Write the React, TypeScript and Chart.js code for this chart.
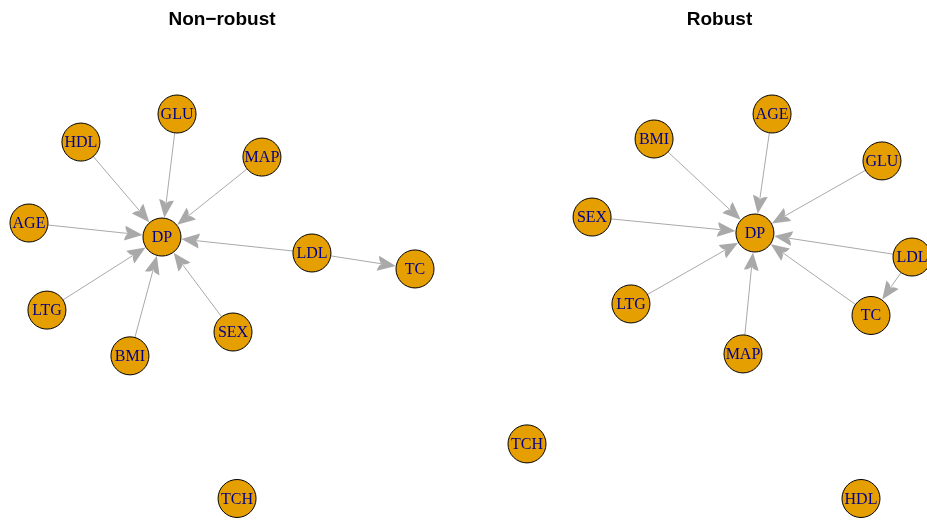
import React, { useEffect, useRef } from "react";
import { Chart, registerables } from "chart.js";

Chart.register(...registerables);

// Node names (shared by both panels)
const nodeNames = ["DP", "AGE", "SEX", "BMI", "GLU", "HDL", "LDL", "LTG", "MAP", "TC", "TCH"];

// Non-robust layout (normalized -1..1)
const nonRobustX = [-0.311, -1.0, 0.057, -0.477, -0.233, -0.731, 0.466, -0.907, 0.207, 1.0, 0.078];
const nonRobustY = [0.36, 0.433, -0.134, -0.258, 1.0, 0.854, 0.277, -0.02, 0.776, 0.194, -1.0];
const nonRobustFrom = ["GLU", "HDL", "MAP", "AGE", "LDL", "LTG", "BMI", "SEX", "LDL"];
const nonRobustTo = ["DP", "DP", "DP", "DP", "DP", "DP", "DP", "DP", "TC"];

// Robust layout (normalized -1..1)
const robustX = [0.184, 0.273, -0.662, -0.34, 0.844, 0.735, 1.0, -0.46, 0.122, 0.787, -1.0];
const robustY = [0.381, 1.0, 0.464, 0.87, 0.756, -1.0, 0.256, 0.012, -0.248, -0.048, -0.716];
const robustFrom = ["BMI", "AGE", "GLU", "SEX", "LDL", "LTG", "MAP", "TC", "LDL"];
const robustTo = ["DP", "DP", "DP", "DP", "DP", "DP", "DP", "DP", "TC"];

const NODE_R = 19;

type PanelProps = {
  title: string;
  xs: number[];
  ys: number[];
  from: string[];
  to: string[];
  width: number;
  padLeft: number;
  padRight: number;
  xMax: number;
};

function Panel({ title, xs, ys, from, to, width, padLeft, padRight, xMax }: PanelProps) {
  const ref = useRef<HTMLCanvasElement | null>(null);

  useEffect(() => {
    if (!ref.current) return;

    const edgePlugin = {
      id: "edges",
      beforeDatasetsDraw(chart: any) {
        const ctx = chart.ctx;
        const sx = chart.scales.x;
        const sy = chart.scales.y;
        ctx.save();
        for (let i = 0; i < from.length; i++) {
          const a = nodeNames.indexOf(from[i]);
          const b = nodeNames.indexOf(to[i]);
          const ax = sx.getPixelForValue(xs[a]);
          const ay = sy.getPixelForValue(ys[a]);
          const bx = sx.getPixelForValue(xs[b]);
          const by = sy.getPixelForValue(ys[b]);
          const dx = bx - ax;
          const dy = by - ay;
          const d = Math.hypot(dx, dy);
          const ux = dx / d;
          const uy = dy / d;
          const px = -uy;
          const py = ux;
          const L = 18;
          const W = 7.5;
          const N = 5;
          const tipX = bx - ux * (NODE_R + 0.5);
          const tipY = by - uy * (NODE_R + 0.5);
          const backX = tipX - ux * L;
          const backY = tipY - uy * L;
          const notchX = tipX - ux * (L - N);
          const notchY = tipY - uy * (L - N);
          ctx.strokeStyle = "#A9A9A9";
          ctx.lineWidth = 1;
          ctx.beginPath();
          ctx.moveTo(ax + ux * NODE_R, ay + uy * NODE_R);
          ctx.lineTo(notchX, notchY);
          ctx.stroke();
          ctx.fillStyle = "#A9A9A9";
          ctx.beginPath();
          ctx.moveTo(tipX, tipY);
          ctx.lineTo(backX + px * W, backY + py * W);
          ctx.quadraticCurveTo(tipX - ux * (L - 1), tipY - uy * (L - 1), notchX, notchY);
          ctx.quadraticCurveTo(tipX - ux * (L - 1), tipY - uy * (L - 1), backX - px * W, backY - py * W);
          ctx.closePath();
          ctx.fill();
        }
        ctx.restore();
      },
      afterDatasetsDraw(chart: any) {
        const ctx = chart.ctx;
        const sx = chart.scales.x;
        const sy = chart.scales.y;
        ctx.save();
        ctx.font = '16px "Liberation Serif", "Times New Roman", serif';
        ctx.fillStyle = "#00008B";
        ctx.textAlign = "center";
        ctx.textBaseline = "alphabetic";
        for (let i = 0; i < nodeNames.length; i++) {
          const x = sx.getPixelForValue(xs[i]);
          const y = sy.getPixelForValue(ys[i]);
          ctx.fillText(nodeNames[i], x, y + 5);
        }
        ctx.restore();
      },
      afterDraw(chart: any) {
        const ctx = chart.ctx;
        const sx = chart.scales.x;
        ctx.save();
        ctx.font = 'bold 19px "Liberation Sans", Arial, sans-serif';
        ctx.fillStyle = "#000";
        ctx.textAlign = "center";
        ctx.textBaseline = "alphabetic";
        ctx.fillText(title, sx.getPixelForValue(0), 25);
        ctx.restore();
      },
    };

    const chart = new Chart(ref.current, {
      type: "scatter",
      data: {
        datasets: [
          {
            data: xs.map((x, i) => ({ x, y: ys[i] })),
            pointRadius: NODE_R,
            pointHoverRadius: NODE_R,
            pointBackgroundColor: "#E69F00",
            pointBorderColor: "#000000",
            pointBorderWidth: 1,
            clip: false as any,
          } as any,
        ],
      },
      options: {
        animation: false,
        responsive: false,
        events: [],
        layout: { padding: { left: padLeft, right: padRight, top: 114, bottom: 24.5 } },
        plugins: {
          legend: { display: false },
          tooltip: { enabled: false },
          title: { display: false },
        },
        scales: {
          x: { type: "linear", min: -1, max: xMax, display: false },
          y: { type: "linear", min: -1, max: 1, display: false },
        },
      },
      plugins: [edgePlugin],
    });
    return () => chart.destroy();
  }, []);

  return <canvas ref={ref} width={width} height={523} style={{ display: "block", flex: "none" }} />;
}

export default function App() {
  return (
    <div style={{ position: "absolute", left: 0, top: 0, width: 927, height: 523, display: "flex", background: "#fff" }}>
      <Panel
        title="Non−robust"
        xs={nonRobustX}
        ys={nonRobustY}
        from={nonRobustFrom}
        to={nonRobustTo}
        width={463}
        padLeft={29}
        padRight={48}
        xMax={1}
      />
      <Panel
        title="Robust"
        xs={robustX}
        ys={robustY}
        from={robustFrom}
        to={robustTo}
        width={464}
        padLeft={64}
        padRight={20}
        xMax={0.974}
      />
    </div>
  );
}
